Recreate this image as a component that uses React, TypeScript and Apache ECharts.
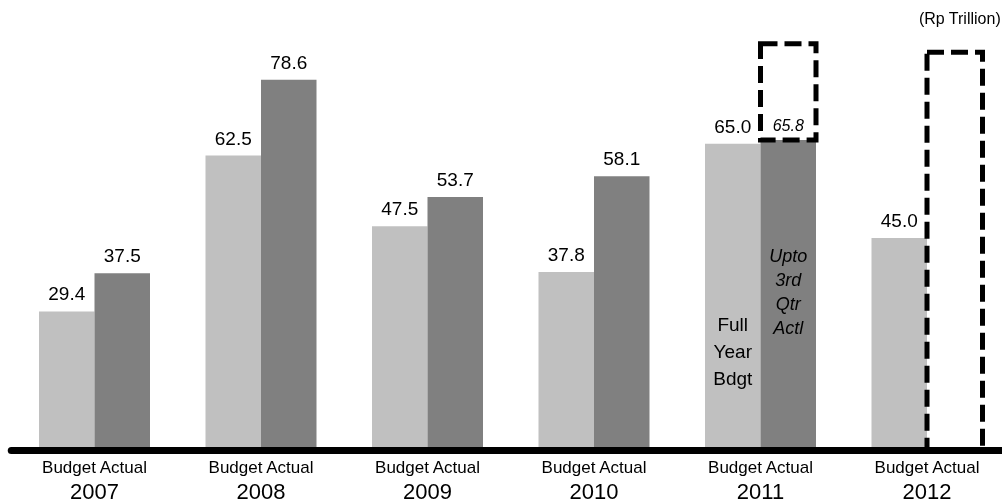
import React, { useEffect, useRef } from "react";
import * as echarts from "echarts";

// Annual figures, Rp trillion
const years = ["2007", "2008", "2009", "2010", "2011", "2012"];
const budget = [29.4, 62.5, 47.5, 37.8, 65.0, 45.0];
const actual: (number | null)[] = [37.5, 78.6, 53.7, 58.1, 65.8, null];
// Top of the dashed (not yet realised) frames over the Actual column
const frameTop: (number | null)[] = [null, null, null, null, 86.2, 84.4];

const budgetNote = "Full\nYear\nBdgt";
const actualNote = "Upto\n3rd\nQtr\nActl";
const noteYear = "2011";
const budgetNoteAt = 20.8;
const actualNoteAt = 33.6;

const FONT = "Arial";
const LIGHT = "#c0c0c0";
const DARK = "#808080";

// The canvas runs a little past the right edge of the window so that the
// last category keeps the same width as the others.
const W = 1012;
const H = 502;

export default function App() {
  const ref = useRef<HTMLDivElement>(null);

  useEffect(() => {
    if (!ref.current) return;
    const chart = echarts.init(ref.current, undefined, { renderer: "svg" });

    const fmt = (p: any) => Number(p.value).toFixed(1);
    const noteIdx = years.indexOf(noteYear);

    // [category index, from, to] for each dashed frame
    const frames: number[][] = [];
    frameTop.forEach((t, i) => {
      if (t != null) frames.push([i, actual[i] ?? 0, t]);
    });

    chart.setOption({
      animation: false,
      textStyle: { fontFamily: FONT, color: "#000" },
      title: {
        text: "(Rp Trillion)",
        right: W - 1001,
        top: 10,
        padding: 0,
        textStyle: { fontFamily: FONT, fontSize: 16, fontWeight: "normal", color: "#000" },
      },
      grid: { left: 11.25, width: 999, top: 2.4, height: 449.6 },
      xAxis: {
        type: "category",
        data: years,
        z: 5,
        // thick baseline drawn over the bar feet
        axisLine: { lineStyle: { color: "#000", width: 7 } },
        axisTick: { show: false },
        axisLabel: {
          margin: 6,
          formatter: (v: string) => `{s|Budget Actual}\n{y|${v}}`,
          rich: {
            s: { fontFamily: FONT, fontSize: 17, lineHeight: 22, color: "#000" },
            y: { fontFamily: FONT, fontSize: 22, lineHeight: 26, color: "#000" },
          },
        },
      },
      yAxis: { type: "value", min: 0, max: 95, show: false, splitLine: { show: false } },
      series: [
        {
          name: "Budget",
          type: "bar",
          barWidth: 55.5,
          barGap: "0%",
          data: budget,
          itemStyle: { color: LIGHT },
          label: {
            show: true,
            position: "top",
            distance: 8,
            fontSize: 19,
            fontFamily: FONT,
            color: "#000",
            formatter: fmt,
          },
          markPoint: {
            symbol: "circle",
            symbolSize: 1,
            itemStyle: { color: "rgba(0,0,0,0)" },
            data: [
              {
                coord: [noteYear, budgetNoteAt],
                label: {
                  show: true,
                  position: "inside",
                  formatter: budgetNote,
                  fontFamily: FONT,
                  fontSize: 19,
                  lineHeight: 27,
                  color: "#000",
                },
              },
            ],
          },
        },
        {
          name: "Actual",
          type: "bar",
          barWidth: 55.5,
          data: actual.map((v, i) =>
            i === noteIdx
              ? { value: v, label: { fontStyle: "italic", fontSize: 16, distance: 6 } }
              : v
          ),
          itemStyle: { color: DARK },
          label: {
            show: true,
            position: "top",
            distance: 8,
            fontSize: 19,
            fontFamily: FONT,
            color: "#000",
            formatter: fmt,
          },
          markPoint: {
            symbol: "circle",
            symbolSize: 1,
            itemStyle: { color: "rgba(0,0,0,0)" },
            data: [
              {
                coord: [noteYear, actualNoteAt],
                label: {
                  show: true,
                  position: "inside",
                  formatter: actualNote,
                  fontFamily: FONT,
                  fontStyle: "italic",
                  fontSize: 18,
                  lineHeight: 24,
                  color: "#000",
                },
              },
            ],
          },
        },
        {
          name: "Frame",
          type: "custom",
          z: 3,
          data: frames,
          encode: { x: 0, y: [1, 2] },
          renderItem: (params: any, api: any) => {
            const idx = api.value(0);
            const lo = api.value(1);
            const hi = api.value(2);
            const band = api.size([1, 0])[0];
            const bw = band / 3; // one column of the Budget/Actual pair
            const pLo = api.coord([idx, lo]);
            const pHi = api.coord([idx, hi]);
            return {
              type: "rect",
              shape: { x: pLo[0], y: pHi[1], width: bw, height: pLo[1] - pHi[1] },
              style: {
                fill: "none",
                stroke: "#000",
                lineWidth: 5,
                lineDash: [17, 7],
              },
            };
          },
        },
      ],
    });

    return () => chart.dispose();
  }, []);

  return (
    <div
      ref={ref}
      style={{ position: "fixed", left: 0, top: 0, width: W, height: H }}
    />
  );
}
